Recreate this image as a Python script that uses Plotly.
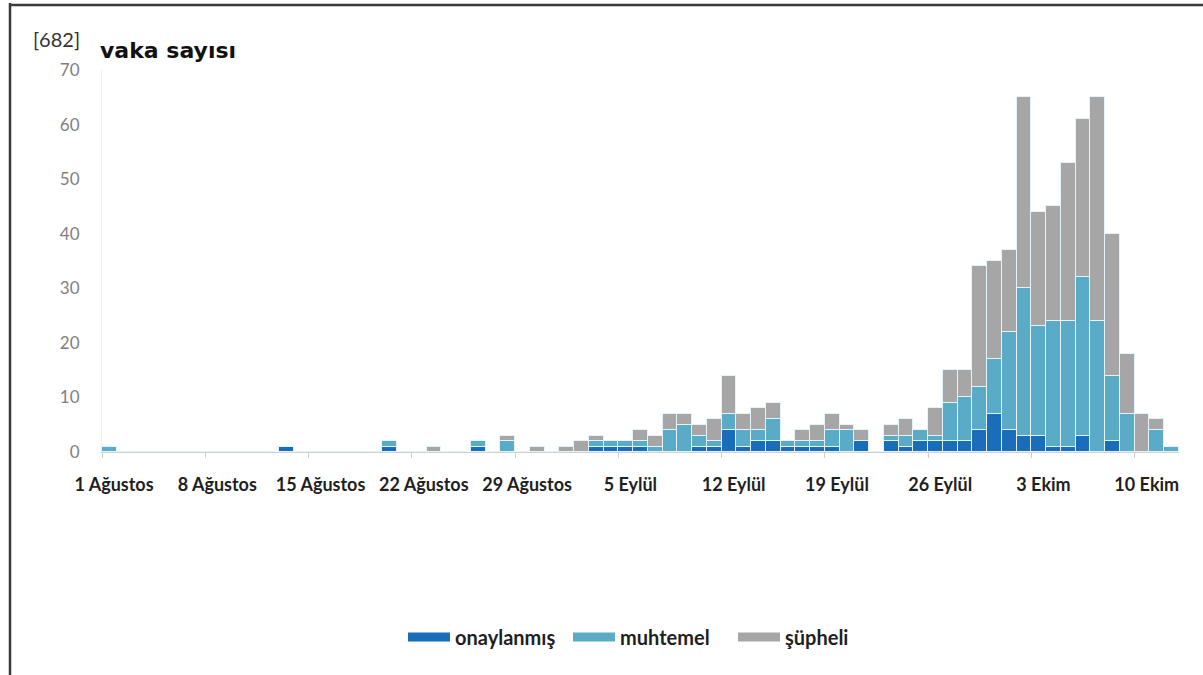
import datetime as dt
import plotly.graph_objects as go

# ---- data -------------------------------------------------------------
start = dt.date(2014, 8, 1)
n_days = 73
dates = [(start + dt.timedelta(days=i)).isoformat() for i in range(n_days)]

onaylanmis = [0, 0, 0, 0, 0, 0, 0, 0, 0, 0,
              0, 0, 1, 0, 0, 0, 0, 0, 0, 1,
              0, 0, 0, 0, 0, 1, 0, 0, 0, 0,
              0, 0, 0, 1, 1, 1, 1, 0, 0, 0,
              1, 1, 4, 1, 2, 2, 1, 1, 1, 1,
              0, 2, 0, 2, 1, 2, 2, 2, 2, 4,
              7, 4, 3, 3, 1, 1, 3, 0, 2, 0,
              0, 0, 0]
muhtemel = [1, 0, 0, 0, 0, 0, 0, 0, 0, 0,
            0, 0, 0, 0, 0, 0, 0, 0, 0, 1,
            0, 0, 0, 0, 0, 1, 0, 2, 0, 0,
            0, 0, 0, 1, 1, 1, 1, 1, 4, 5,
            2, 1, 3, 3, 2, 4, 1, 1, 1, 3,
            4, 0, 0, 1, 2, 2, 1, 7, 8, 8,
            10, 18, 27, 20, 23, 23, 29, 24, 12, 7,
            0, 4, 1]
supheli = [0, 0, 0, 0, 0, 0, 0, 0, 0, 0,
           0, 0, 0, 0, 0, 0, 0, 0, 0, 0,
           0, 0, 1, 0, 0, 0, 0, 1, 0, 1,
           0, 1, 2, 1, 0, 0, 2, 2, 3, 2,
           2, 4, 7, 3, 4, 3, 0, 2, 3, 3,
           1, 2, 0, 2, 3, 0, 5, 6, 5, 22,
           18, 15, 35, 21, 21, 29, 29, 41, 26, 11,
           7, 2, 0]

tick_dates = [dates[i] for i in range(0, 71, 7)]
tick_labels = ["1 Ağustos", "8 Ağustos", "15 Ağustos", "22 Ağustos", "29 Ağustos",
               "5 Eylül", "12 Eylül", "19 Eylül", "26 Eylül", "3 Ekim", "10 Ekim"]

series_names = ["onaylanmış", "muhtemel", "şüpheli"]
series_values = [onaylanmis, muhtemel, supheli]
series_colors = ["#1a6dbb", "#5aabc8", "#a6a6a6"]

# ---- figure -----------------------------------------------------------
fig = go.Figure()
DAY_MS = 86400000
for name, vals, col in zip(series_names, series_values, series_colors):
    fig.add_trace(go.Bar(
        x=dates, y=vals, name=name, showlegend=False,
        xperiod=DAY_MS, xperiodalignment="middle",
        marker=dict(color=col, line=dict(color="#e3f4fb", width=1)),
        hoverinfo="x+y+name",
    ))
for name, col in zip(series_names, series_colors):
    # legend swatch (wide, flat bar like the original)
    fig.add_trace(go.Scatter(
        x=[None], y=[None], mode="lines", name=name,
        line=dict(color=col, width=9), showlegend=True,
    ))

L, R, T, B = 102, 24, 70, 223
W, H = 1203, 675
pw, ph = W - L - R, H - T - B

def px_x(x):
    return (x - L) / pw

def px_y(y):
    return (H - B - y) / ph

fig.update_layout(
    width=W, height=H,
    margin=dict(l=L, r=R, t=T, b=B, autoexpand=False),
    barmode="stack", bargap=0,
    plot_bgcolor="white", paper_bgcolor="white",
    font=dict(family="Lato, 'Open Sans', sans-serif", color="#262626"),
    xaxis=dict(
        type="date",
        range=[dates[0], (start + dt.timedelta(days=n_days)).isoformat()],
        tickvals=tick_dates, ticktext=tick_labels,
        ticks="outside", ticklen=5, tickcolor="#d0d0d0",
        showline=True, linecolor="#d0d0d0", linewidth=1,
        showgrid=False, zeroline=False,
        tickfont=dict(family="Lato", size=18, color="#1f1f1f", weight="bold"),
        ticklabelstandoff=11, ticklabelshift=12,
    ),
    yaxis=dict(
        range=[0, 70], dtick=10,
        showgrid=False, zeroline=False,
        showline=True, linecolor="#eeeeee", linewidth=1,
        tickfont=dict(family="Lato", size=17, color="#7f7f7f"),
        ticklabelstandoff=18,
    ),
    legend=dict(
        orientation="h", x=px_x(403), xanchor="left", y=px_y(637), yanchor="middle",
        traceorder="normal",
        font=dict(family="Lato", size=20, color="#1f1f1f", weight="bold"),
        itemwidth=42, entrywidth=108, entrywidthmode="pixels",
    ),
    annotations=[
        dict(text="[682]", x=px_x(31), y=px_y(39), xref="paper", yref="paper",
             xanchor="left", yanchor="middle", showarrow=False,
             font=dict(family="Lato", size=20, color="#333333")),
        dict(text="vaka sayısı", x=px_x(98), y=px_y(50), xref="paper", yref="paper",
             xanchor="left", yanchor="middle", showarrow=False,
             font=dict(family="DejaVu Sans", size=22, color="#111111", weight="bold")),
    ],
    shapes=[
        dict(type="line", xref="paper", yref="paper",
             x0=px_x(10), x1=px_x(10), y0=px_y(3), y1=px_y(675),
             line=dict(color="#3a3a3a", width=2.5)),
        dict(type="line", xref="paper", yref="paper",
             x0=px_x(9), x1=px_x(1203), y0=px_y(5), y1=px_y(5),
             line=dict(color="#3a3a3a", width=2.5)),
    ],
)

fig.write_html("out.html", config={"displayModeBar": False},
               post_script="document.body.style.margin='0';")
